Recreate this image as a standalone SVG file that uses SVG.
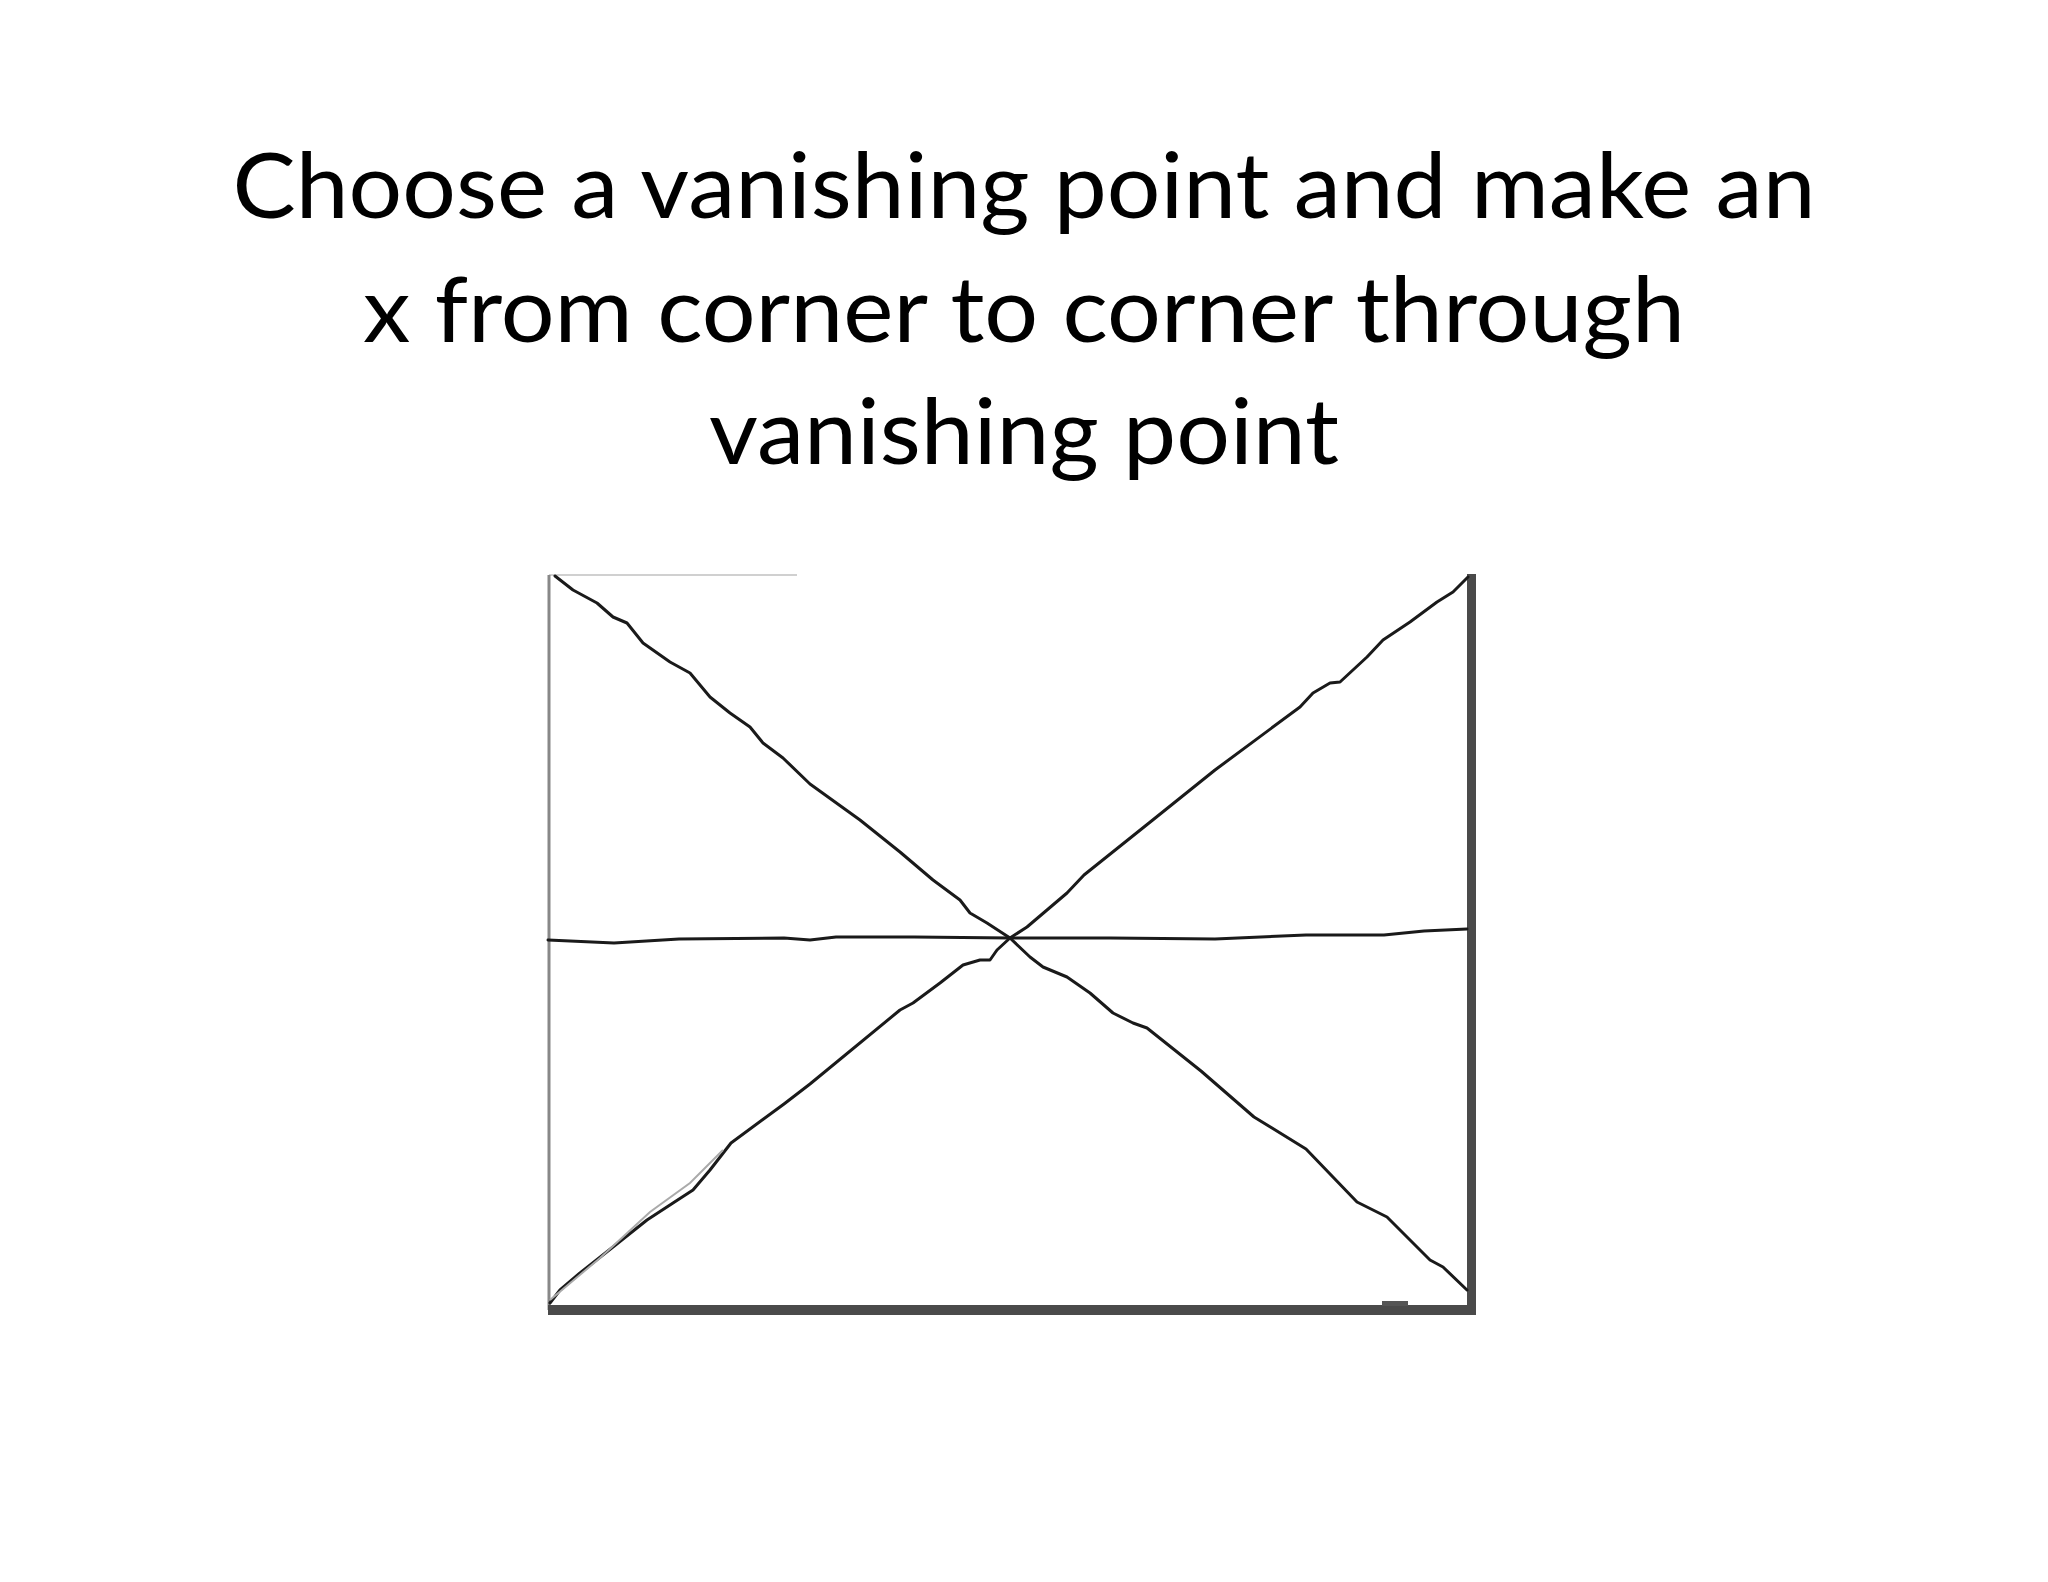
<svg xmlns="http://www.w3.org/2000/svg" width="2048" height="1582" viewBox="0 0 2048 1582">
<style>
.title{font-family:Lato,"Open Sans","Liberation Sans",sans-serif;font-size:92px;fill:#000;text-anchor:middle}
.pen{fill:none;stroke:#1a1a1a;stroke-width:3;stroke-linejoin:round;stroke-linecap:round}
</style>
<rect width="2048" height="1582" fill="#fff"/>
<g id="title">
<text class="title" x="1024" y="218" textLength="1583" lengthAdjust="spacingAndGlyphs">Choose a vanishing point and make an</text>
<text class="title" x="1024" y="342" textLength="1322" lengthAdjust="spacingAndGlyphs">x from corner to corner through</text>
<text class="title" x="1024" y="464" textLength="630" lengthAdjust="spacingAndGlyphs">vanishing point</text>
</g>
<g id="frame">
<line x1="549" y1="575" x2="797" y2="575" stroke="#d0d0d0" stroke-width="2"/>
<line x1="549" y1="575" x2="549" y2="1310" stroke="#888" stroke-width="3"/>
<rect x="1467" y="574" width="9" height="740" fill="#4a4a4a"/>
<rect x="548" y="1305" width="928" height="10" fill="#4a4a4a"/>
<rect x="1382" y="1301" width="26" height="5" fill="#555"/>
</g>
<g id="lines">
<polyline class="pen" points="555,576 573,590 597,603 613,617 627,623 643,643 670,662 690,673 710,697 730,713 750,727 763,743 783,758 810,784 860,820 900,852 933,880 960,900 970,913 987,923 1010,938 1030,957 1043,967 1067,977 1090,993 1113,1013 1133,1023 1147,1028 1201,1071 1254,1117 1306,1149 1357,1202 1387,1217 1410,1240 1430,1260 1443,1267 1467,1290"/>
<polyline class="pen" points="1468,577 1453,592 1437,602 1410,622 1383,640 1367,657 1340,682 1330,683 1313,693 1300,707 1215,770 1149,823 1084,875 1067,893 1047,910 1027,927 1010,938 997,950 990,960 980,960 963,965 940,983 913,1003 900,1010 810,1084 784,1104 731,1143 710,1170 693,1190 673,1203 647,1220 613,1247 580,1273 560,1290 550,1303"/>
<polyline fill="none" stroke="#aaa" stroke-width="2" points="550,1300 600,1258 650,1212 690,1183 723,1150"/>
<polyline class="pen" points="548,940 614,943 679,939 784,938 810,940 836,937 914,937 1010,938 1110,938 1215,939 1306,935 1384,935 1424,931 1467,929"/>
</g>
</svg>
